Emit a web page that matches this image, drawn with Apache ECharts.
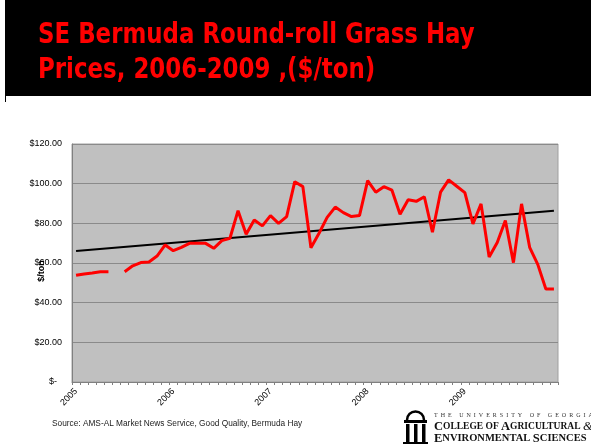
<!DOCTYPE html>
<html>
<head>
<meta charset="utf-8">
<script src="https://cdn.jsdelivr.net/npm/echarts@6/dist/echarts.min.js"></script>
<style>
  html, body { margin: 0; padding: 0; background: #fff; }
  #chart { width: 591px; height: 444px; }
</style>
</head>
<body>
<div id="chart"></div>
<script>
// years on the axis, one category per month
const years = ['2005', '2006', '2007', '2008', '2009']
const months = ['01', '02', '03', '04', '05', '06', '07', '08', '09', '10', '11', '12']

// monthly price, $/ton (null = no report)
const prices = [
    53.8, 54.5, 55.0, 55.6, 55.6, null, 55.6, 58.6, 60.2, 60.5, 63.5, 69.1,
    66.2, 67.9, 69.9, 69.9, 69.9, 67.4, 71.3, 72.5, 86.4, 74.5, 81.7, 78.7,
    83.9, 80.0, 83.4, 101.0, 98.5, 67.7, 75.0, 83.0, 88.2, 85.4, 83.4, 84.0,
    101.5, 95.7, 98.5, 96.7, 84.6, 91.9, 91.1, 93.4, 75.5, 95.7, 101.9, 98.7,
    95.5, 79.7, 89.8, 63.0, 70.3, 81.4, 60.2, 89.8, 67.9, 59.3, 46.9, 46.9,
]

// linear trend, read at first and last month
const trendStart = 66.1
const trendEnd = 86.4

const categories = []
years.forEach(y => {
    months.forEach(m => categories.push(y + '-' + m))
})

const chart = echarts.init(document.getElementById('chart'))

const titleFont = "'DejaVu Sans', sans-serif"
const serif = "'Liberation Serif', 'DejaVu Serif', serif"

const option = {
    animation: false,
    backgroundColor: '#fff',
    grid: {
        left: 72,
        right: 33,
        top: 144,
        bottom: 62,
        show: true,
        backgroundColor: '#c0c0c0',
        borderColor: '#a0a0a0',
        borderWidth: 1,
    },
    xAxis: {
        type: 'category',
        data: categories,
        boundaryGap: true,
        axisLine: { lineStyle: { color: '#808080', width: 1 } },
        axisTick: { show: true, interval: 0, length: 3, lineStyle: { color: '#808080' } },
        axisLabel: {
            interval: 11,
            rotate: 45,
            margin: 8,
            color: '#000',
            fontSize: 9,
            fontFamily: 'Liberation Sans, sans-serif',
            formatter: v => v.slice(0, 4),
        },
        splitLine: { show: false },
    },
    yAxis: {
        type: 'value',
        min: 0,
        max: 120,
        interval: 20,
        name: '$/ton',
        nameLocation: 'middle',
        nameGap: 26,
        nameRotate: 90,
        nameMoveOverlap: false,
        nameTextStyle: {
            color: '#000',
            fontSize: 9,
            fontWeight: 'bold',
            fontFamily: 'Liberation Sans, sans-serif',
            padding: [0, 16, 0, 0],
        },
        axisLine: { show: true, lineStyle: { color: '#808080', width: 1 } },
        axisTick: { show: false },
        axisLabel: {
            color: '#000',
            fontSize: 9,
            margin: 10,
            fontFamily: 'Liberation Sans, sans-serif',
            formatter: v => (v === 0 ? '$-  ' : '$' + v.toFixed(2)),
        },
        splitLine: { show: true, lineStyle: { color: '#8a8a8a', width: 1 } },
    },
    series: [
        {
            name: 'price',
            type: 'line',
            data: prices,
            symbol: 'none',
            connectNulls: false,
            lineStyle: { color: '#ff0000', width: 3 },
            z: 3,
        },
        {
            name: 'trend',
            type: 'line',
            data: [[0, trendStart], [categories.length - 1, trendEnd]],
            symbol: 'none',
            lineStyle: { color: '#000', width: 2 },
            z: 2,
        },
    ],
    graphic: [
        // header band
        {
            type: 'rect',
            shape: { x: 5, y: 0, width: 586, height: 96 },
            style: { fill: '#000' },
        },
        {
            type: 'rect',
            shape: { x: 5, y: 96, width: 1, height: 6 },
            style: { fill: '#000' },
        },
        {
            type: 'text',
            x: 38,
            y: 21,
            scaleX: 0.79,
            style: {
                text: 'SE Bermuda Round-roll Grass Hay',
                fill: '#ff0000',
                font: 'bold 29px ' + titleFont,
            },
        },
        {
            type: 'text',
            x: 38,
            y: 56,
            scaleX: 0.79,
            style: {
                text: 'Prices, 2006-2009 ,($/ton)',
                fill: '#ff0000',
                font: 'bold 29px ' + titleFont,
            },
        },
        // source note
        {
            type: 'text',
            left: 52,
            top: 420,
            style: {
                text: 'Source: AMS-AL Market News Service, Good Quality, Bermuda Hay',
                fill: '#222',
                font: '8.3px Liberation Sans, sans-serif',
            },
        },
        // logo arch
        {
            type: 'group',
            left: 403,
            top: 409,
            children: [
                {
                    type: 'arc',
                    shape: { cx: 12.5, cy: 10, r: 8.5, startAngle: Math.PI, endAngle: 0, clockwise: true },
                    style: { stroke: '#000', lineWidth: 2.5, fill: null },
                },
                { type: 'rect', shape: { x: 1, y: 10, width: 23, height: 3 }, style: { fill: '#000' } },
                { type: 'rect', shape: { x: 3, y: 14, width: 3.5, height: 18 }, style: { fill: '#000' } },
                { type: 'rect', shape: { x: 11, y: 14, width: 3.5, height: 18 }, style: { fill: '#000' } },
                { type: 'rect', shape: { x: 19, y: 14, width: 3.5, height: 18 }, style: { fill: '#000' } },
                { type: 'rect', shape: { x: 0, y: 32, width: 25, height: 3 }, style: { fill: '#000' } },
            ],
        },
        {
            type: 'text',
            x: 434,
            y: 412,
            style: {
                text: 'T  H  E     U  N  I  V  E  R  S  I  T  Y     O  F     G  E  O  R  G  I  A',
                fill: '#333',
                font: '6px ' + serif,
            },
        },
        {
            type: 'text',
            x: 434,
            y: 420,
            style: {
                text: '{b|C}{s|OLLEGE OF }{b|A}{s|GRICULTURAL }{i|&}',
                rich: {
                    b: { font: 'bold 12.5px ' + serif, fill: '#111' },
                    s: { font: 'bold 9.5px ' + serif, fill: '#111' },
                    i: { font: 'italic 12.5px ' + serif, fill: '#111' },
                },
            },
        },
        {
            type: 'text',
            x: 434,
            y: 432,
            style: {
                text: '{b|E}{s|NVIRONMENTAL }{b|S}{s|CIENCES}',
                rich: {
                    b: { font: 'bold 12.5px ' + serif, fill: '#111' },
                    s: { font: 'bold 10.5px ' + serif, fill: '#111' },
                },
            },
        },
    ],
}

chart.setOption(option)
</script>
</body>
</html>
